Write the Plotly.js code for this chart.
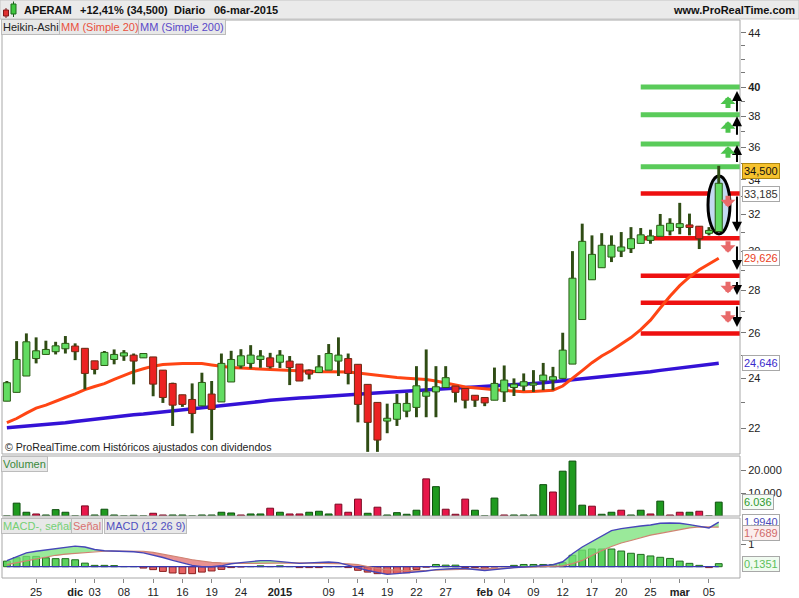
<!DOCTYPE html>
<html><head><meta charset="utf-8">
<script src="https://cdn.plot.ly/plotly-3.0.1.min.js"></script>
<style>html,body{margin:0;padding:0;background:#fff;}#chart{width:799px;height:598px;}</style>
</head><body><div id="chart"></div>
<script>
// ---------- DATA ----------
const dates = ['2014-11-20','2014-11-21','2014-11-24','2014-11-25','2014-11-26','2014-11-27','2014-11-28',
'2014-12-01','2014-12-02','2014-12-03','2014-12-04','2014-12-05','2014-12-08','2014-12-09','2014-12-10','2014-12-11','2014-12-12',
'2014-12-15','2014-12-16','2014-12-17','2014-12-18','2014-12-19','2014-12-22','2014-12-23','2014-12-24','2014-12-29','2014-12-30','2014-12-31',
'2015-01-02','2015-01-05','2015-01-06','2015-01-07','2015-01-08','2015-01-09','2015-01-12','2015-01-13','2015-01-14','2015-01-15','2015-01-16',
'2015-01-19','2015-01-20','2015-01-21','2015-01-22','2015-01-23','2015-01-26','2015-01-27','2015-01-28','2015-01-29','2015-01-30',
'2015-02-02','2015-02-03','2015-02-04','2015-02-05','2015-02-06','2015-02-09','2015-02-10','2015-02-11','2015-02-12','2015-02-13',
'2015-02-16','2015-02-17','2015-02-18','2015-02-19','2015-02-20','2015-02-23','2015-02-24','2015-02-25','2015-02-26','2015-02-27',
'2015-03-02','2015-03-03','2015-03-04','2015-03-05','2015-03-06'];

const haOpen = [23.06,23.42,24.10,24.85,25.03,25.15,25.28,25.40,25.30,24.75,
24.55,24.81,24.96,25.00,24.88,24.92,24.35,23.79,23.32,23.13,
22.87,23.35,23.03,23.85,24.53,24.64,24.81,24.88,24.69,24.74,
24.61,24.35,24.25,24.35,24.74,24.85,24.60,23.75,23.01,22.27,
22.34,22.66,22.81,23.26,23.44,23.62,23.68,23.58,23.30,23.21,
23.10,23.44,23.62,23.68,23.72,23.90,23.93,24.00,24.61,26.61,
28.53,29.14,29.69,30.00,30.13,30.41,30.57,30.79,31.08,31.27,
31.41,31.34,30.95,31.05];
const haClose = [23.82,24.81,25.59,25.19,25.25,25.41,25.52,25.15,24.21,24.38,
25.12,25.03,25.10,24.74,25.07,23.76,23.21,22.90,22.93,22.57,
23.83,22.73,24.64,24.81,24.97,25.00,24.96,24.49,25.00,24.46,
23.89,24.18,24.49,25.07,25.00,24.21,22.93,22.22,21.54,22.38,
22.97,22.97,23.69,23.44,23.65,24.03,23.42,23.10,23.10,22.99,
23.79,23.93,23.76,23.86,23.80,24.14,24.07,25.22,28.61,30.52,
29.83,30.31,30.31,30.22,30.66,30.87,30.81,31.39,31.50,31.48,
31.27,30.66,31.11,33.79];
const haHigh = [23.89,25.62,25.97,25.79,25.64,25.59,25.85,25.52,25.30,24.75,
25.18,25.25,25.22,25.07,25.07,24.92,24.35,23.82,23.32,23.79,
24.24,23.89,25.07,25.19,25.26,25.44,25.22,25.10,25.22,24.96,
24.61,24.38,25.00,25.49,25.79,25.07,24.60,23.75,23.01,22.96,
23.35,23.40,24.52,25.25,24.52,24.52,23.68,23.58,23.30,23.21,
24.46,24.55,24.00,24.21,24.35,24.66,24.49,26.00,30.00,31.48,
30.84,30.96,30.84,31.02,31.29,31.24,31.15,32.02,31.78,32.65,
32.04,31.34,31.29,34.84];
const haLow = [23.06,23.42,24.10,24.64,25.03,25.03,25.07,24.78,23.54,24.17,
24.55,24.60,24.75,23.75,24.88,23.26,22.99,22.08,22.83,21.80,
22.87,21.54,23.03,23.85,24.42,24.42,24.45,24.42,24.44,23.72,
23.89,23.96,24.25,24.35,24.10,23.75,22.22,21.10,21.10,21.80,
22.08,22.42,22.42,22.42,22.42,23.62,23.01,22.77,22.83,22.86,
23.10,23.03,23.27,23.48,23.44,23.51,23.51,24.00,24.61,26.61,
28.53,29.14,29.43,29.69,29.90,30.41,30.39,30.79,30.84,30.90,
30.84,30.11,30.84,31.05];
const ma20 = [22.21,22.37,22.58,22.78,22.90,23.04,23.21,23.36,23.53,23.66,
23.78,23.96,24.14,24.29,24.41,24.52,24.59,24.62,24.64,24.64,
24.63,24.57,24.50,24.46,24.44,24.42,24.39,24.37,24.35,24.33,
24.30,24.28,24.28,24.28,24.28,24.27,24.23,24.18,24.12,24.06,
24.04,24.01,23.99,23.95,23.89,23.82,23.72,23.64,23.59,23.57,
23.53,23.49,23.46,23.44,23.46,23.48,23.51,23.68,23.99,24.33,
24.67,24.96,25.20,25.49,25.78,26.14,26.58,27.15,27.72,28.24,
28.67,29.04,29.34,29.63];
const ma200 = [22.01,22.04,22.06,22.09,22.14,22.17,22.20,22.25,22.30,22.35,
22.40,22.44,22.48,22.52,22.55,22.59,22.63,22.68,22.73,22.77,
22.80,22.83,22.86,22.91,22.95,23.00,23.05,23.10,23.14,23.17,
23.19,23.21,23.24,23.26,23.29,23.31,23.34,23.37,23.39,23.42,
23.44,23.47,23.49,23.52,23.55,23.58,23.60,23.62,23.64,23.66,
23.68,23.70,23.72,23.76,23.79,23.82,23.86,23.90,23.93,23.98,
24.02,24.07,24.11,24.15,24.19,24.22,24.28,24.34,24.39,24.45,
24.51,24.56,24.60,24.65];
const volume = [0,5590,1630,880,440,2770,1630,0,4400,440,
2950,440,0,300,0,1190,440,440,440,0,
440,440,1630,1320,440,880,880,3390,1630,880,
880,1630,2070,880,5150,1630,7350,1190,3830,440,
1450,750,2510,16150,12760,2950,750,7350,2510,0,
7790,440,440,440,440,13640,10430,19490,23890,4710,
4270,750,1630,2510,440,2510,880,6470,440,1630,
1630,2070,0,6036];
const volumeUp = [1,1,1,0,1,1,1,1,0,1,
1,1,1,1,1,0,0,1,1,1,
1,1,1,1,0,1,1,0,1,0,
0,1,1,1,0,0,0,1,0,1,
1,1,1,0,1,0,0,0,1,1,
1,0,1,1,1,1,0,1,1,1,
0,1,1,0,1,1,0,1,0,0,
1,0,1,1];
const macd = [0.27,0.43,0.62,0.69,0.75,0.81,0.87,0.92,0.88,0.77,
0.71,0.70,0.70,0.67,0.62,0.52,0.41,0.28,0.16,0.06,
0.00,0.00,0.04,0.13,0.18,0.23,0.27,0.27,0.24,0.20,
0.15,0.17,0.18,0.21,0.18,0.08,-0.05,-0.17,-0.27,-0.34,
-0.31,-0.28,-0.24,-0.19,-0.13,-0.09,-0.08,-0.08,-0.14,-0.17,
-0.13,-0.08,-0.04,-0.02,0.01,0.04,0.09,0.22,0.58,0.88,
1.12,1.37,1.61,1.70,1.77,1.82,1.86,1.94,1.95,1.94,
1.88,1.79,1.73,1.99];
const signal = [0.09,0.17,0.27,0.36,0.44,0.51,0.56,0.60,0.63,0.68,
0.69,0.70,0.70,0.70,0.69,0.64,0.57,0.48,0.40,0.31,
0.25,0.19,0.17,0.15,0.15,0.15,0.16,0.17,0.17,0.17,
0.17,0.16,0.15,0.15,0.15,0.13,0.09,0.00,-0.08,-0.13,
-0.16,-0.17,-0.18,-0.17,-0.16,-0.15,-0.14,-0.13,-0.11,-0.09,
-0.08,-0.06,-0.04,-0.02,-0.01,0.01,0.03,0.04,0.14,0.28,
0.50,0.72,0.90,1.06,1.17,1.30,1.41,1.49,1.58,1.67,
1.73,1.78,1.79,1.77];
const macdHist = [0.25,0.40,0.46,0.46,0.40,0.36,0.36,0.31,0.16,0.06,
0.06,0.05,0.01,0.01,-0.06,-0.13,-0.21,-0.28,-0.31,-0.31,
-0.24,-0.19,-0.12,-0.04,-0.01,0.01,0.04,0.01,0.04,0.01,
-0.04,-0.04,-0.04,0.01,0.01,-0.04,-0.16,-0.24,-0.31,-0.31,
-0.30,-0.27,-0.12,-0.02,0.10,0.07,0.07,-0.04,-0.04,-0.07,
-0.01,0.01,0.06,0.10,0.10,0.10,0.10,0.18,0.51,0.74,
0.79,0.79,0.79,0.70,0.60,0.55,0.48,0.42,0.37,0.25,
0.15,0.06,-0.04,0.135];

const greenLevels = [40.0, 38.1, 36.2, 34.78];
const redLevels = [33.185, 30.68, 28.73, 27.40, 25.97];
const levelStartDate = '2015-02-24';
const targetUp = [[34.98,36.13],[36.70,38.0],[38.22,39.72]];
const targetDown = [[33.10,31.04],[30.32,29.02],[28.50,27.78],[27.30,26.26]];
const blockUpTips = [36.05, 37.68, 39.35];
const blockDownTips = [32.40, 29.92, 27.86, 26.46];
const circleLow = 30.91, circleHigh = 34.22;

const tickDates = ['2014-11-25','2014-12-01','2014-12-03','2014-12-08','2014-12-11','2014-12-16','2014-12-19','2014-12-24',
'2015-01-02','2015-01-09','2015-01-14','2015-01-19','2015-01-22','2015-01-27','2015-02-02','2015-02-04','2015-02-09',
'2015-02-12','2015-02-17','2015-02-20','2015-02-25','2015-03-02','2015-03-05'];
const tickText = ['25','<b>dic</b>','03','08','11','16','19','24','<b>2015</b>','09','14','19','22','27','<b>feb</b>','04','09','12','17','20','25','<b>mar</b>','05'];
const priceTicks = [22,24,26,28,30,32,34,36,38,40,44];
const priceTickText = ['22','24','26','28','30','32','34','36','38','<b>40</b>','44'];
const priceMinor = [23,25,27,29,31,33,35,37,39,41,42,43];
const volTicks = [10000,20000];
const volTickText = ['10.000','20.000'];
const macdTicks = [1];
const macdTickText = ['1'];

const lastClose = 34.5, lastLevel = 33.185, lastMa20 = 29.626, lastMa200 = 24.646;
const lastVol = 6036, lastMacd = 1.994, lastSignal = 1.7689, lastHist = 0.1351;

// ---------- BUILD ----------
const FONT = 'Liberation Sans, Arial, sans-serif';
const idx = dates.map((d,i)=>i);
const n = idx.length;
const XMAX = 75.18;
const PX = p => (p - 2) / 738;
const PY = p => (578 - p) / 558;
const L = Math.log10;

const bodyHi = haOpen.map((o,i)=>Math.max(o,haClose[i]));
const bodyLo = haOpen.map((o,i)=>Math.min(o,haClose[i]));
const bodyUp = haOpen.map((o,i)=>haClose[i]>=o);

function fillRuns(x,a,b){
  const pos={x:[],y:[]}, neg={x:[],y:[]};
  let top=[],bot=[],sign=null;
  function flush(){
    if(top.length>1){
      const t = sign>0?pos:neg;
      const pts = top.concat(bot.slice().reverse());
      pts.forEach(p=>{t.x.push(p[0]);t.y.push(p[1]);});
      t.x.push(pts[0][0],null); t.y.push(pts[0][1],null);
    }
    top=[];bot=[];
  }
  for(let i=0;i<x.length;i++){
    const d=a[i]-b[i]; const s=d>=0?1:-1;
    if(sign===null) sign=s;
    else if(s!==sign){
      const dp=a[i-1]-b[i-1]; const t=dp/(dp-d);
      const xc=x[i-1]+t*(x[i]-x[i-1]); const yc=a[i-1]+t*(a[i]-a[i-1]);
      top.push([xc,yc]); bot.push([xc,yc]); flush(); sign=s;
      top.push([xc,yc]); bot.push([xc,yc]);
    }
    top.push([x[i],a[i]]); bot.push([x[i],b[i]]);
  }
  flush();
  return {pos,neg};
}
const runs = fillRuns(idx, macd, signal);

const traces = [
  {type:'scatter', mode:'lines', x:idx, y:ma200, xaxis:'x', yaxis:'y', line:{color:'#3412d6', width:3.5}, hoverinfo:'skip'},
  {type:'scatter', mode:'lines', x:idx, y:ma20, xaxis:'x', yaxis:'y', line:{color:'#ff4514', width:3}, hoverinfo:'skip'},
  {type:'bar', x:idx, base:haLow, y:haHigh.map((h,i)=>h-haLow[i]), xaxis:'x', yaxis:'y4', width:0.3,
    marker:{color:'#2f4c14', line:{width:0}}, hoverinfo:'skip'},
  {type:'bar', x:idx, base:bodyLo, y:bodyHi.map((h,i)=>h-bodyLo[i]), xaxis:'x', yaxis:'y4', width:0.72,
    marker:{color:bodyUp.map(u=>u?'#62dc62':'#ec2222'), line:{color:bodyUp.map(u=>u?'#2a5a14':'#6a2a12'), width:1}}, hoverinfo:'skip'},
  {type:'bar', x:idx, y:volume, xaxis:'x', yaxis:'y2', width:0.7,
    marker:{color:volumeUp.map(u=>u?'#1f9a1f':'#e8174a'), line:{color:volumeUp.map(u=>u?'#0d4f0d':'#7a0a22'), width:1}}, hoverinfo:'skip'},
  {type:'scatter', mode:'lines', x:runs.pos.x, y:runs.pos.y, xaxis:'x', yaxis:'y3', fill:'toself', fillcolor:'rgba(120,225,120,0.75)', line:{width:0}, hoverinfo:'skip'},
  {type:'scatter', mode:'lines', x:runs.neg.x, y:runs.neg.y, xaxis:'x', yaxis:'y3', fill:'toself', fillcolor:'rgba(222,100,100,0.7)', line:{width:0}, hoverinfo:'skip'},
  {type:'bar', x:idx, y:macdHist, xaxis:'x', yaxis:'y3', width:0.7,
    marker:{color:macdHist.map(v=>v>=0?'#5cd25c':'#e66262'), line:{color:macdHist.map(v=>v>=0?'#1f6a1f':'#8a2020'), width:1}}, hoverinfo:'skip'},
  {type:'scatter', mode:'lines', x:[idx[0], idx[n-1]], y:[0,0], xaxis:'x', yaxis:'y3', line:{color:'#3838b0', width:1.3}, hoverinfo:'skip'},
  {type:'scatter', mode:'lines', x:idx, y:signal, xaxis:'x', yaxis:'y3', line:{color:'#cf8472', width:1.2}, hoverinfo:'skip'},
  {type:'scatter', mode:'lines', x:idx, y:macd, xaxis:'x', yaxis:'y3', line:{color:'#4646b8', width:1.4}, hoverinfo:'skip'}
];

const levelStart = dates.indexOf(levelStartDate);
const shapes = [];
shapes.push({type:'rect', xref:'paper', yref:'paper', x0:PX(0), x1:PX(799), y0:PY(19), y1:PY(0), fillcolor:'#eaeaea', line:{color:'#c4c4c4', width:1}});
shapes.push({type:'line', xref:'paper', yref:'paper', x0:PX(6), x1:PX(6), y0:PY(18), y1:PY(8), line:{color:'#7a1a1a', width:1}});
shapes.push({type:'rect', xref:'paper', yref:'paper', x0:PX(3.5), x1:PX(8.5), y0:PY(16), y1:PY(10), fillcolor:'#e03030', line:{color:'#801818', width:1}});
shapes.push({type:'line', xref:'paper', yref:'paper', x0:PX(13.5), x1:PX(13.5), y0:PY(17), y1:PY(1.5), line:{color:'#1a5a1a', width:1}});
shapes.push({type:'rect', xref:'paper', yref:'paper', x0:PX(11), x1:PX(16), y0:PY(14), y1:PY(4), fillcolor:'#40c840', line:{color:'#1a6a1a', width:1}});
['y','y2','y3'].forEach(a=>shapes.push({type:'rect', xref:'x domain', yref:a+' domain', x0:0, x1:1, y0:0, y1:1, line:{color:'#a8a8a8', width:1}, layer:'above'}));
greenLevels.forEach(v=>shapes.push({type:'line', xref:'x', yref:'y', x0:levelStart, x1:XMAX, y0:v, y1:v, line:{color:'#5acb5a', width:5}, layer:'below'}));
redLevels.forEach(v=>shapes.push({type:'line', xref:'x', yref:'y', x0:levelStart, x1:XMAX, y0:v, y1:v, line:{color:'#ee1010', width:4.5}, layer:'below'}));
shapes.push({type:'circle', xref:'x', yref:'y', x0:n-1-1.1, x1:n-1+1.15, y0:circleLow, y1:circleHigh, fillcolor:'rgba(196,218,242,1)', line:{color:'#000', width:3}, layer:'below'});

const ann = [];
const txt = (text, x, y, opt) => Object.assign({text, x, y, xref:'paper', yref:'paper', showarrow:false, xanchor:'left', yanchor:'middle', font:{family:FONT, size:11, color:'#111'}}, opt||{});
ann.push(txt('<b>APERAM</b>', PX(22), PY(10)));
ann.push(txt('<b>+12,41% (34,500)</b>', PX(78), PY(10)));
ann.push(txt('<b>Diario</b>', PX(172), PY(10)));
ann.push(txt('<b>06-mar-2015</b>', PX(212), PY(10)));
ann.push(txt('<b>www.ProRealTime.com</b>', PX(797), PY(10), {xanchor:'right'}));
const tag = (text, x, y, color) => txt(text, PX(x), PY(y), {font:{family:FONT,size:11,color}, bgcolor:'#e8e8e8', bordercolor:'#bcbcbc', borderwidth:1, borderpad:1});
ann.push(tag('Heikin-Ashi', 0.5, 27.5, '#222'));
ann.push(tag('MM (Simple 20)', 59, 27.5, '#e8503c'));
ann.push(tag('MM (Simple 200)', 137.5, 27.5, '#5a48c8'));
ann.push(tag('Volumen', 0.5, 464, '#3a8a3a'));
ann.push(tag('MACD-, señal', 0.5, 526, '#74d074'));
ann.push(tag('Señal', 71, 526, '#d87070'));
ann.push(tag('MACD (12 26 9)', 104, 526, '#5050c0'));
ann.push(txt('© ProRealTime.com Históricos ajustados con dividendos', PX(3), PY(446.5), {font:{family:FONT,size:10.6,color:'#222'}}));
const vlab = (text, yref, y, color, bg, border, extra) => Object.assign({text, xref:'paper', x:PX(742), xanchor:'left', yref, y, yanchor:'middle', showarrow:false,
  font:{family:FONT,size:11,color}, bgcolor:bg, bordercolor:border, borderwidth:1, borderpad:1}, extra||{});
ann.push(vlab('34,500','y',L(lastClose),'#111','#f6c22e','#b08810'));
ann.push(vlab('33,185','y',L(lastLevel),'#333','#ffffff','#a8a8a8'));
ann.push(vlab('29,626','y',L(lastMa20),'#e8401c','#ffffff','#a8a8a8'));
ann.push(vlab('24,646','y',L(lastMa200),'#3a2ccc','#ffffff','#a8a8a8'));
ann.push(vlab('6.036','y2',lastVol,'#2f9a2f','#f4fbf4','#a8a8a8'));
ann.push(vlab('1,9940','y3',lastMacd,'#4a4ab8','#ffffff','#a8a8a8'));
ann.push(vlab('1,7689','y3',lastSignal,'#d06a6a','#fbeded','#a8a8a8',{yshift:-6}));
ann.push(vlab('0,1351','y3',lastHist,'#5cc05c','#f0fbf0','#a8a8a8'));
const AX = 74.87;
targetUp.concat(targetDown).forEach(p=>ann.push({x:AX, y:L(p[1]), ax:AX, ay:L(p[0]), xref:'x', yref:'y', axref:'x', ayref:'y', text:'', showarrow:true, arrowhead:2, arrowsize:1, arrowwidth:2, arrowcolor:'#000'}));
const BX = 73.95;
blockUpTips.forEach(v=>ann.push({x:BX, y:L(v), xref:'x', yref:'y', ax:0, ay:13, text:'', showarrow:true, arrowhead:1, arrowsize:0.5, arrowwidth:5, arrowcolor:'#4cc44c'}));
blockDownTips.forEach(v=>ann.push({x:BX, y:L(v), xref:'x', yref:'y', ax:0, ay:-13, text:'', showarrow:true, arrowhead:1, arrowsize:0.5, arrowwidth:5, arrowcolor:'#e86a6a'}));

const tickvals = tickDates.map(d=>dates.indexOf(d));
const axFont = {family:FONT, size:11, color:'#222'};
const priceRange = [L(21.02), L(44.99)];
const layout = {
  width:799, height:598, margin:{l:2, r:59, t:20, b:20},
  paper_bgcolor:'#ffffff', plot_bgcolor:'#ffffff', showlegend:false,
  font:{family:FONT, size:11, color:'#222'},
  barmode:'overlay',
  xaxis:{range:[-0.5, XMAX], anchor:'y3', tickmode:'array', tickvals, ticktext:tickText, ticks:'outside', ticklen:4, tickcolor:'#888',
    showgrid:false, zeroline:false, showline:false, tickfont:axFont},
  yaxis:{domain:[0.2222,1], type:'log', range:priceRange, side:'right', anchor:'x', tickmode:'array', tickvals:priceTicks, ticktext:priceTickText,
    ticks:'outside', ticklen:5, tickcolor:'#777', showgrid:false, zeroline:false, showline:false, tickfont:axFont,
    minor:{tickmode:'array', tickvals:priceMinor, ticks:'outside', ticklen:4, tickcolor:'#777'}},
  yaxis4:{overlaying:'y', type:'log', range:priceRange, side:'right', anchor:'x', showticklabels:false, ticks:'', showgrid:false, zeroline:false, showline:false},
  yaxis2:{domain:[0.1111,0.2186], range:[0,26090], side:'right', anchor:'x', tickmode:'array', tickvals:volTicks, ticktext:volTickText,
    ticks:'outside', ticklen:5, tickcolor:'#777', showgrid:false, zeroline:false, tickfont:axFont},
  yaxis3:{domain:[0,0.1075], range:[-0.504,2.174], side:'right', anchor:'x', tickmode:'array', tickvals:macdTicks, ticktext:macdTickText,
    ticks:'outside', ticklen:5, tickcolor:'#777', showgrid:false, zeroline:false, tickfont:axFont},
  shapes, annotations:ann
};
Plotly.newPlot('chart', traces, layout, {staticPlot:true, displayModeBar:false});
</script></body></html>
